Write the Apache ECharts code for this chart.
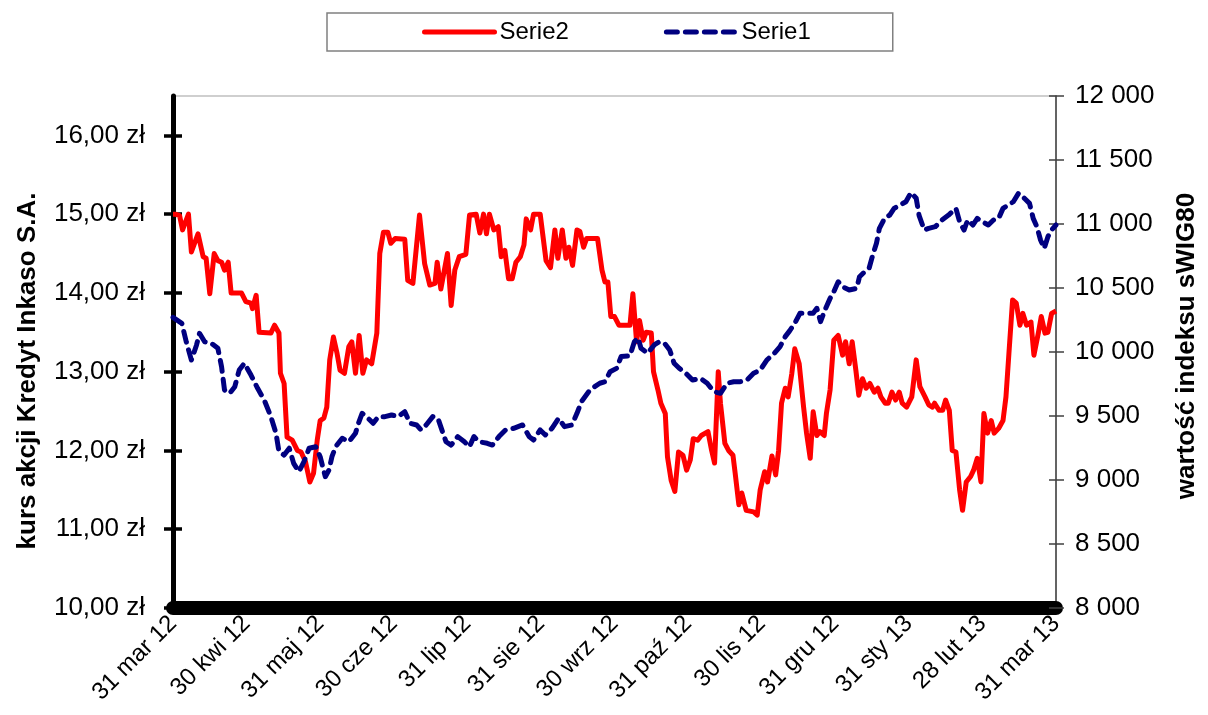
<!DOCTYPE html>
<html>
<head>
<meta charset="utf-8">
<title>Kredyt Inkaso vs sWIG80</title>
<script src="https://cdn.jsdelivr.net/npm/echarts@6/dist/echarts.min.js"></script>
<style>
  html, body { margin: 0; padding: 0; background: #fff; }
  #chart { width: 1208px; height: 715px; }
</style>
</head>
<body>
<div id="chart"></div>
<script>
// Month-end labels for the x axis (one per month step)
const monthLabels = ['31 mar 12', '30 kwi 12', '31 maj 12', '30 cze 12', '31 lip 12', '31 sie 12',
  '30 wrz 12', '31 paź 12', '30 lis 12', '31 gru 12', '31 sty 13', '28 lut 13', '31 mar 13'];

// Ticks shown on the share-price axis
const priceTicks = [10, 11, 12, 13, 14, 15, 16];

// Serie2: share price of Kredyt Inkaso S.A. [months since 31 mar 12, PLN]
const serie2 = [
  [0.00,15.00],[0.03,15.00],[0.09,14.98],[0.13,14.80],[0.21,15.00],[0.25,14.52],[0.34,14.75],[0.41,14.46],
  [0.45,14.44],[0.50,13.99],[0.56,14.50],[0.61,14.41],[0.66,14.39],[0.70,14.29],[0.75,14.39],[0.79,14.00],
  [0.93,14.00],[0.99,13.89],[1.06,13.87],[1.08,13.80],[1.13,13.97],[1.17,13.50],[1.33,13.49],[1.38,13.59],
  [1.44,13.49],[1.46,12.98],[1.51,12.85],[1.55,12.17],[1.62,12.13],[1.69,12.00],[1.74,11.98],[1.80,11.86],
  [1.86,11.60],[1.91,11.71],[1.96,12.13],[2.00,12.38],[2.05,12.41],[2.09,12.55],[2.13,13.15],[2.18,13.44],
  [2.23,13.23],[2.27,13.02],[2.33,12.98],[2.39,13.32],[2.43,13.38],[2.48,12.98],[2.53,13.46],[2.58,12.98],
  [2.63,13.15],[2.70,13.10],[2.77,13.49],[2.81,14.50],[2.86,14.77],[2.92,14.77],[2.96,14.63],[3.02,14.69],
  [3.15,14.68],[3.19,14.16],[3.26,14.12],[3.35,14.99],[3.42,14.37],[3.49,14.10],[3.56,14.12],[3.59,14.39],
  [3.64,14.05],[3.73,14.50],[3.78,13.84],[3.83,14.29],[3.89,14.46],[3.98,14.49],[4.03,14.99],[4.12,15.00],
  [4.17,14.76],[4.22,15.00],[4.26,14.75],[4.30,15.00],[4.36,14.80],[4.42,14.84],[4.46,14.46],[4.51,14.54],
  [4.56,14.18],[4.61,14.18],[4.66,14.39],[4.72,14.46],[4.77,14.61],[4.80,14.94],[4.86,14.80],[4.90,15.00],
  [4.99,15.00],[5.07,14.41],[5.13,14.32],[5.19,14.80],[5.23,14.44],[5.29,14.80],[5.34,14.44],[5.38,14.58],
  [5.43,14.35],[5.49,14.80],[5.53,14.78],[5.58,14.58],[5.62,14.69],[5.77,14.69],[5.83,14.29],[5.87,14.14],
  [5.91,14.14],[5.95,13.70],[6.00,13.70],[6.06,13.59],[6.21,13.59],[6.25,13.99],[6.30,13.38],[6.34,13.65],
  [6.39,13.40],[6.43,13.50],[6.50,13.49],[6.53,13.00],[6.59,12.77],[6.63,12.60],[6.69,12.47],[6.72,11.92],
  [6.77,11.62],[6.82,11.48],[6.87,11.98],[6.93,11.94],[6.98,11.75],[7.03,11.88],[7.07,12.15],[7.13,12.13],
  [7.18,12.19],[7.27,12.24],[7.32,12.00],[7.36,11.84],[7.41,13.00],[7.44,12.60],[7.50,12.09],[7.55,12.00],
  [7.61,11.94],[7.64,11.71],[7.69,11.31],[7.73,11.46],[7.79,11.24],[7.89,11.22],[7.94,11.18],[7.98,11.50],
  [8.04,11.73],[8.08,11.60],[8.14,11.93],[8.19,11.69],[8.23,12.00],[8.27,12.60],[8.32,12.79],[8.36,12.68],
  [8.41,12.98],[8.45,13.29],[8.51,13.10],[8.57,12.55],[8.61,12.22],[8.66,11.90],[8.70,12.49],[8.75,12.19],
  [8.79,12.24],[8.85,12.19],[8.88,12.47],[8.93,12.77],[8.98,13.40],[9.04,13.46],[9.10,13.21],[9.14,13.38],
  [9.19,13.10],[9.23,13.38],[9.28,13.02],[9.32,12.70],[9.37,12.91],[9.42,12.79],[9.47,12.85],[9.53,12.74],
  [9.58,12.79],[9.62,12.68],[9.68,12.60],[9.72,12.60],[9.77,12.74],[9.82,12.64],[9.87,12.74],[9.91,12.60],
  [9.97,12.55],[10.04,12.68],[10.10,13.15],[10.15,12.81],[10.22,12.68],[10.27,12.58],[10.32,12.55],[10.35,12.60],
  [10.41,12.51],[10.46,12.51],[10.50,12.64],[10.55,12.51],[10.59,12.00],[10.64,11.98],[10.69,11.50],[10.73,11.24],
  [10.78,11.60],[10.84,11.67],[10.88,11.75],[10.93,11.90],[10.98,11.60],[11.02,12.47],[11.07,12.22],[11.12,12.38],
  [11.16,12.22],[11.22,12.28],[11.28,12.38],[11.32,12.68],[11.36,13.23],[11.41,13.91],[11.46,13.87],[11.51,13.59],
  [11.55,13.74],[11.60,13.59],[11.66,13.63],[11.70,13.21],[11.76,13.49],[11.80,13.70],[11.85,13.49],[11.89,13.50],
  [11.94,13.74],[12.00,13.77]
];

// Serie1: sWIG80 index value [months since 31 mar 12, points]
const serie1 = [
  [0.00,10270],[0.12,10224],[0.18,10080],[0.25,9937],[0.32,10055],[0.36,10146],[0.43,10080],[0.52,10068],
  [0.61,10029],[0.66,9885],[0.70,9703],[0.77,9677],[0.84,9729],[0.90,9859],[0.97,9912],[1.06,9820],
  [1.15,9716],[1.24,9625],[1.33,9495],[1.40,9365],[1.44,9221],[1.51,9195],[1.58,9248],[1.64,9130],
  [1.71,9065],[1.78,9143],[1.85,9248],[1.94,9260],[2.00,9182],[2.07,9026],[2.12,9078],[2.16,9182],
  [2.21,9260],[2.30,9326],[2.39,9299],[2.48,9365],[2.52,9443],[2.57,9521],[2.63,9495],[2.72,9443],
  [2.79,9495],[2.88,9495],[2.97,9508],[3.06,9495],[3.15,9534],[3.22,9443],[3.31,9430],[3.37,9391],
  [3.44,9430],[3.53,9495],[3.60,9482],[3.67,9365],[3.71,9299],[3.78,9273],[3.87,9339],[3.96,9299],
  [4.03,9260],[4.09,9339],[4.16,9299],[4.27,9287],[4.34,9273],[4.43,9339],[4.52,9391],[4.63,9404],
  [4.75,9430],[4.84,9339],[4.90,9312],[4.99,9391],[5.06,9352],[5.15,9404],[5.24,9482],[5.32,9417],
  [5.42,9430],[5.49,9521],[5.55,9612],[5.65,9690],[5.73,9729],[5.80,9756],[5.87,9768],[5.94,9846],
  [6.03,9873],[6.09,9964],[6.21,9970],[6.27,10080],[6.32,10110],[6.36,10029],[6.45,9990],[6.54,10055],
  [6.61,10080],[6.68,10068],[6.75,10016],[6.81,9912],[6.88,9873],[6.97,9834],[7.06,9781],[7.17,9794],
  [7.26,9756],[7.35,9690],[7.44,9677],[7.53,9756],[7.62,9768],[7.71,9768],[7.80,9781],[7.89,9834],
  [7.98,9859],[8.07,9937],[8.18,9995],[8.25,10042],[8.32,10120],[8.38,10165],[8.45,10224],[8.52,10302],
  [8.61,10302],[8.70,10302],[8.75,10341],[8.80,10237],[8.86,10328],[8.93,10419],[8.98,10471],[9.04,10549],
  [9.10,10510],[9.19,10484],[9.29,10497],[9.33,10588],[9.40,10627],[9.46,10654],[9.51,10758],[9.56,10849],
  [9.60,10966],[9.67,11044],[9.74,11070],[9.80,11122],[9.88,11148],[9.96,11174],[10.03,11245],[10.10,11201],
  [10.14,11065],[10.21,10953],[10.27,10966],[10.36,10979],[10.45,11031],[10.54,11070],[10.64,11122],[10.69,11018],
  [10.75,10953],[10.80,11031],[10.87,10992],[10.93,11044],[11.00,11018],[11.08,10992],[11.15,11031],[11.22,11044],
  [11.28,11122],[11.35,11148],[11.42,11174],[11.49,11240],[11.57,11201],[11.64,11161],[11.69,11044],[11.74,10979],
  [11.79,10875],[11.84,10810],[11.89,10901],[11.94,10953],[12.00,10992]
];

const FONT = "'Liberation Sans', Arial, sans-serif";

function formatPrice(v) {
  return v.toFixed(2).replace('.', ',') + ' zł';
}
function formatIndex(v) {
  return String(Math.round(v)).replace(/\B(?=(\d{3})+(?!\d))/g, ' ');
}

const chart = echarts.init(document.getElementById('chart'), null, { renderer: 'canvas' });

chart.setOption({
  animation: false,
  backgroundColor: '#ffffff',
  textStyle: { fontFamily: FONT, color: '#000' },
  legend: {
    data: ['Serie2', 'Serie1'],
    left: 327,
    top: 13,
    orient: 'horizontal',
    padding: [7, 82, 7, 95],
    itemGap: 95,
    itemWidth: 70,
    itemHeight: 14,
    borderColor: '#808080',
    borderWidth: 1.5,
    itemStyle: { opacity: 0 },
    lineStyle: { width: 5, cap: 'round' },
    textStyle: { fontFamily: FONT, fontSize: 24, color: '#000' }
  },
  grid: {
    left: 173,
    right: 145,
    top: 96,
    bottom: 107,
    show: true,
    borderColor: '#c0c0c0',
    borderWidth: 1.5,
    backgroundColor: 'transparent'
  },
  xAxis: {
    type: 'value',
    min: 0,
    max: 12,
    interval: 1,
    axisLine: { show: true, onZero: false, lineStyle: { color: '#000', width: 14 } },
    axisTick: { show: false },
    splitLine: { show: false },
    axisLabel: {
      rotate: 45,
      margin: 12,
      fontFamily: FONT,
      fontSize: 24,
      color: '#000',
      formatter: v => monthLabels[Math.round(v)]
    }
  },
  yAxis: [
    {
      type: 'value',
      position: 'left',
      min: 10,
      max: 16.5,
      interval: 1,
      name: 'kurs akcji Kredyt Inkaso S.A.',
      nameLocation: 'middle',
      nameGap: 132,
      nameTextStyle: { fontFamily: FONT, fontSize: 26, fontWeight: 'bold', color: '#000', padding: [0, 38, 0, 0] },
      axisLine: { show: true, lineStyle: { color: '#000', width: 5 } },
      axisTick: { show: true, length: 9, customValues: priceTicks, lineStyle: { color: '#000', width: 3.5 } },
      axisLabel: { margin: 28, fontFamily: FONT, fontSize: 26, color: '#000', customValues: priceTicks, formatter: formatPrice },
      splitLine: { show: false }
    },
    {
      type: 'value',
      position: 'right',
      min: 8000,
      max: 12000,
      interval: 500,
      name: 'wartość indeksu sWIG80',
      nameLocation: 'middle',
      nameGap: 118,
      nameTextStyle: { fontFamily: FONT, fontSize: 26, fontWeight: 'bold', color: '#000', padding: [0, 0, 0, 12] },
      axisLine: { show: true, lineStyle: { color: '#404040', width: 1.5 } },
      axisTick: { show: true, length: 8, lineStyle: { color: '#404040', width: 1.5 } },
      axisLabel: { margin: 19, fontFamily: FONT, fontSize: 26, color: '#000', formatter: formatIndex },
      splitLine: { show: false }
    },
    {
      // inner half of the crossing tick marks on the price axis
      type: 'value',
      position: 'left',
      min: 10,
      max: 16.5,
      interval: 1,
      axisLine: { show: false },
      axisTick: { show: true, inside: true, length: 9, customValues: priceTicks, lineStyle: { color: '#000', width: 3.5 } },
      axisLabel: { show: false },
      splitLine: { show: false }
    },
    {
      // inner half of the crossing tick marks on the index axis
      type: 'value',
      position: 'right',
      min: 8000,
      max: 12000,
      interval: 500,
      axisLine: { show: false },
      axisTick: { show: true, inside: true, length: 7, lineStyle: { color: '#404040', width: 1.5 } },
      axisLabel: { show: false },
      splitLine: { show: false }
    }
  ],
  series: [
    {
      name: 'Serie2',
      type: 'line',
      yAxisIndex: 0,
      data: serie2,
      symbol: 'none',
      color: '#ff0000',
      lineStyle: { color: '#ff0000', width: 5, join: 'round' },
      z: 3
    },
    {
      name: 'Serie1',
      type: 'line',
      yAxisIndex: 1,
      data: serie1,
      symbol: 'none',
      color: '#000080',
      lineStyle: { color: '#000080', width: 5, type: [11, 8], cap: 'round', join: 'round' },
      z: 4
    }
  ]
});
</script>
</body>
</html>
